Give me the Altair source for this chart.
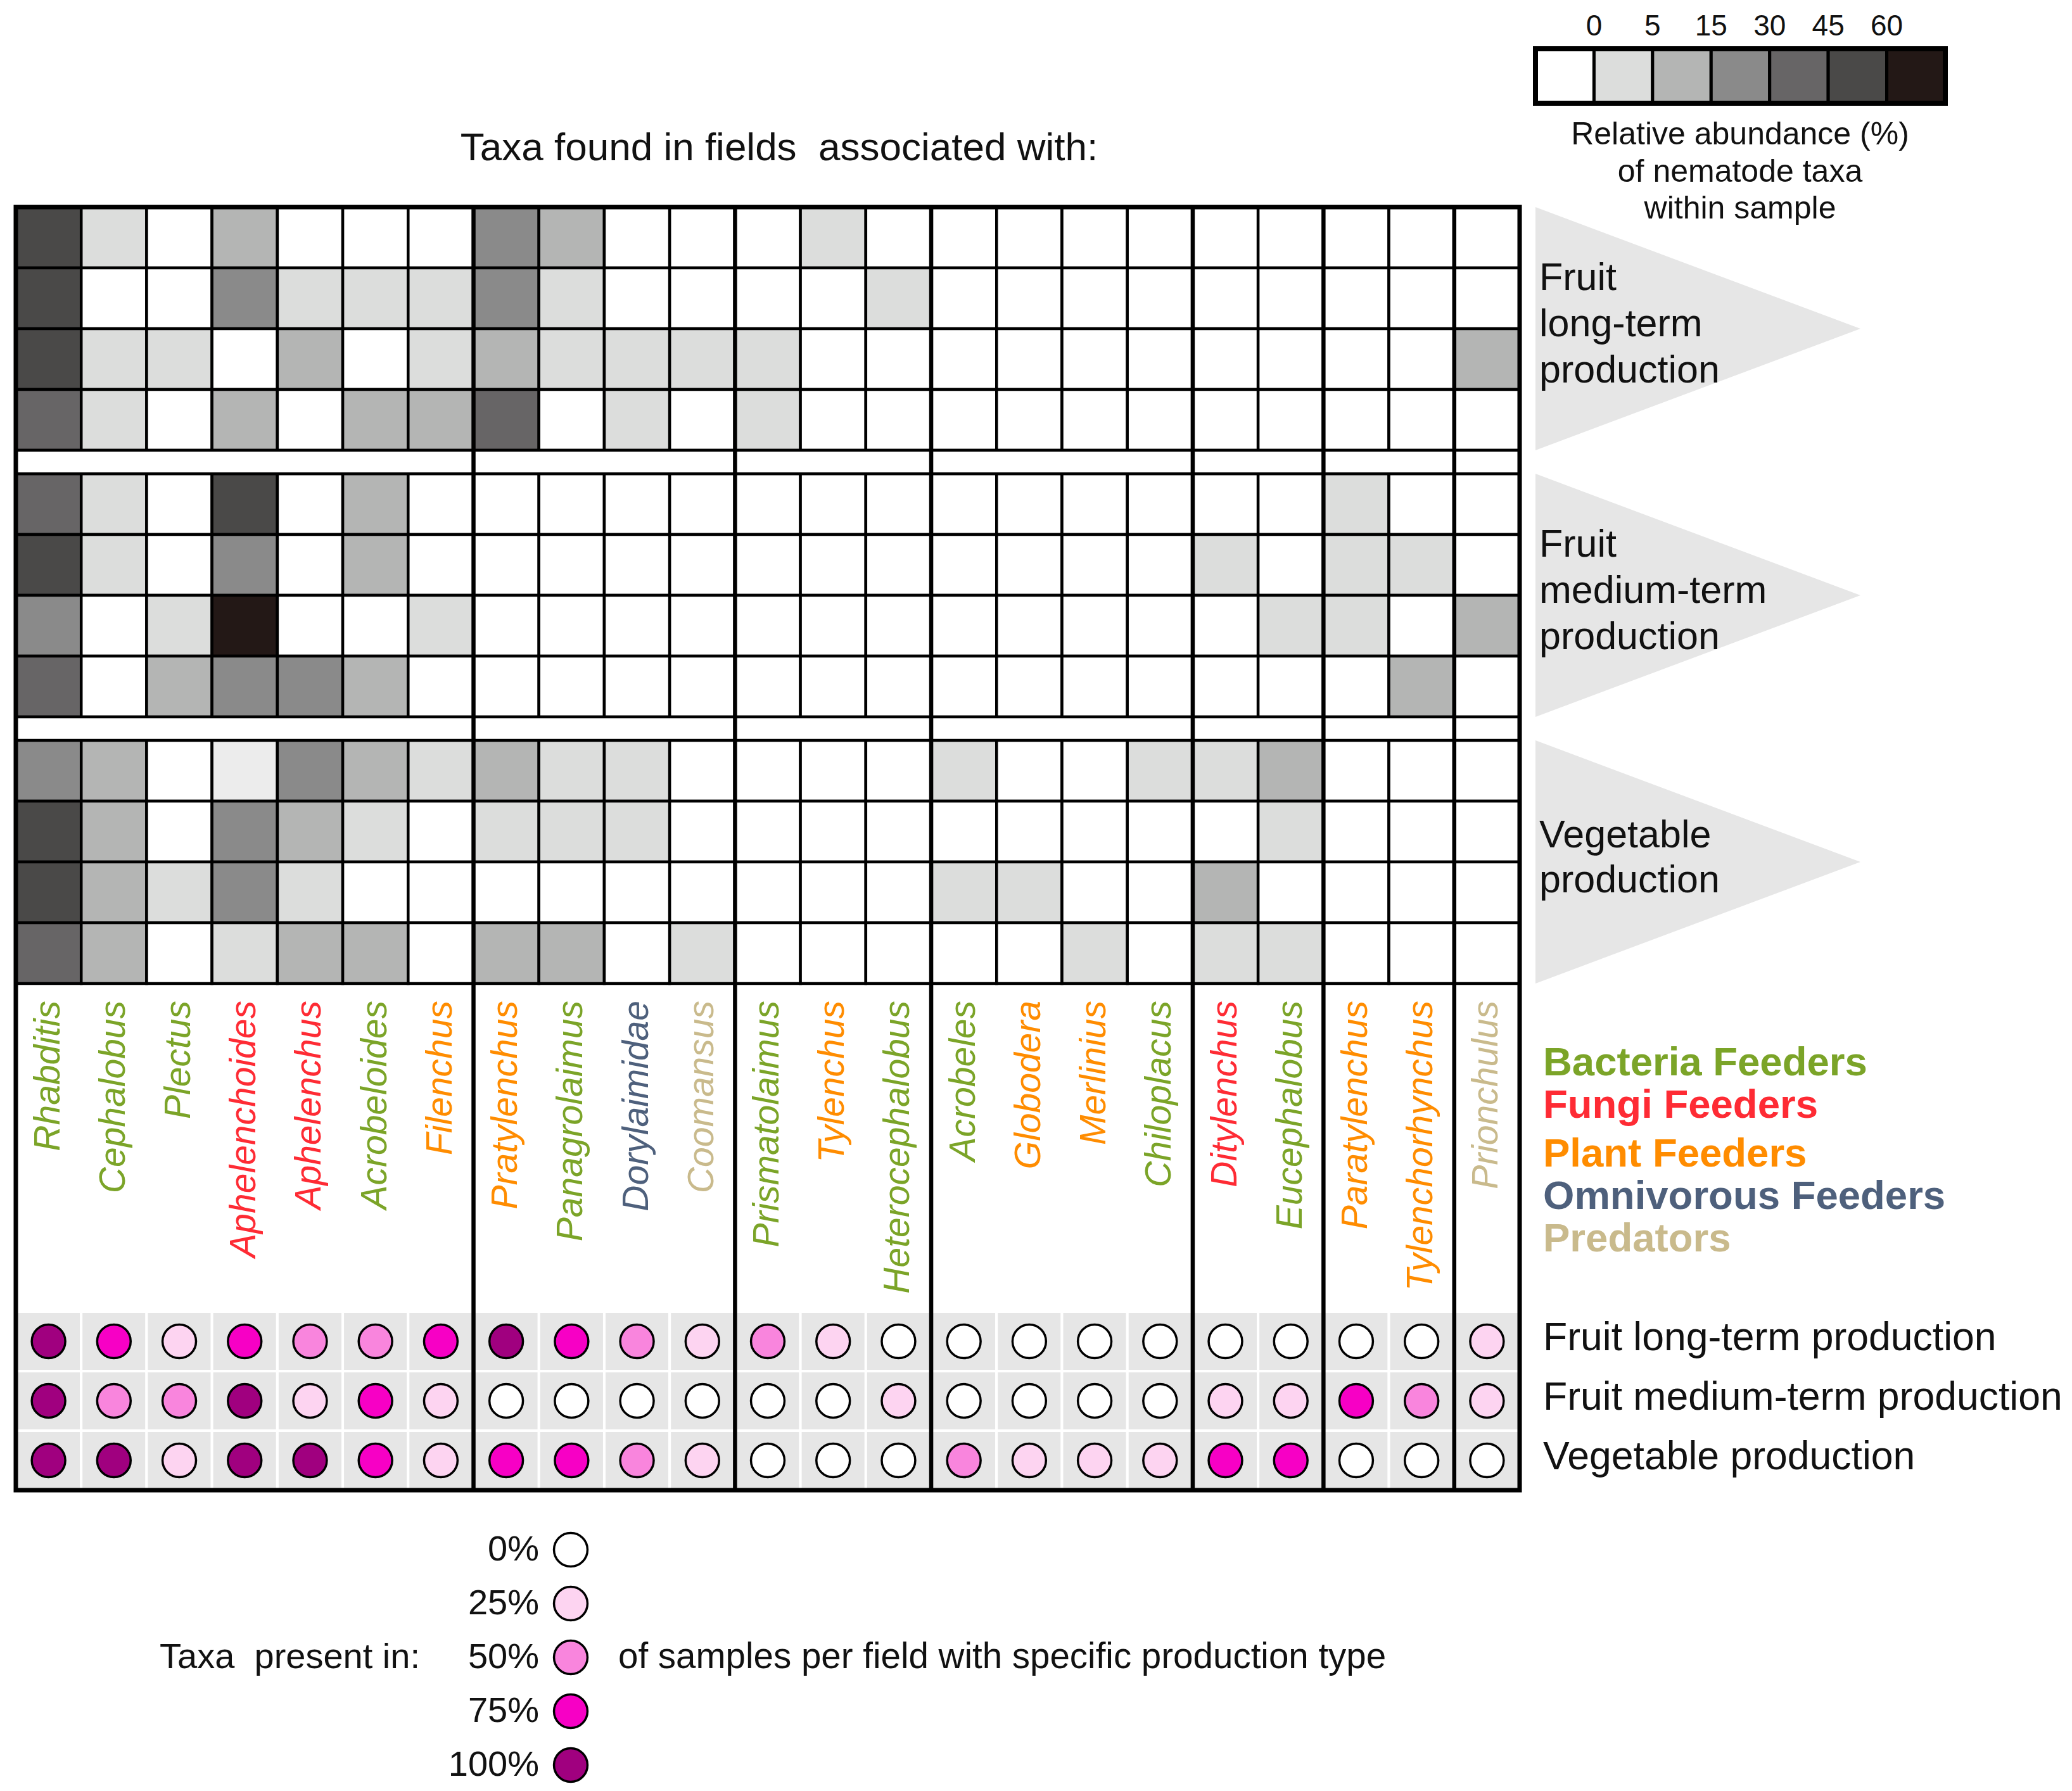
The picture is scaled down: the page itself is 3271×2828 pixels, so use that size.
import altair as alt
import pandas as pd

# ---------------- data ----------------
taxa = ["Rhabditis", "Cephalobus", "Plectus", "Aphelenchoides", "Aphelenchus", "Acrobeloides", "Filenchus",
        "Pratylenchus", "Panagrolaimus", "Dorylaimidae", "Coomansus",
        "Prismatolaimus", "Tylenchus", "Heterocephalobus",
        "Acrobeles", "Globodera", "Merlinius", "Chiloplacus",
        "Ditylenchus", "Eucephalobus",
        "Paratylenchus", "Tylenchorhynchus",
        "Prionchulus"]
taxa_group_sizes = [7, 4, 3, 4, 2, 2, 1]
taxon_feeding = ["Bacteria Feeders", "Bacteria Feeders", "Bacteria Feeders", "Fungi Feeders", "Fungi Feeders",
                 "Bacteria Feeders", "Plant Feeders",
                 "Plant Feeders", "Bacteria Feeders", "Omnivorous Feeders", "Predators",
                 "Bacteria Feeders", "Plant Feeders", "Bacteria Feeders",
                 "Bacteria Feeders", "Plant Feeders", "Plant Feeders", "Bacteria Feeders",
                 "Fungi Feeders", "Bacteria Feeders",
                 "Plant Feeders", "Plant Feeders",
                 "Predators"]
feeding_types = ["Bacteria Feeders", "Fungi Feeders", "Plant Feeders", "Omnivorous Feeders", "Predators"]
feeding_colors = ["#7ba428", "#fe2b34", "#ff8c00", "#4e607c", "#c9ba8c"]

productions = ["Fruit long-term production", "Fruit medium-term production", "Vegetable production"]
production_lines = [["Fruit", "long-term", "production"],
                    ["Fruit", "medium-term", "production"],
                    ["Vegetable", "production"]]

# relative abundance class per sample (rows) and taxon (columns)
abund_fruit_long = [
    [5, 1, 0, 2, 0, 0, 0, 3, 2, 0, 0, 0, 1, 0, 0, 0, 0, 0, 0, 0, 0, 0, 0],
    [5, 0, 0, 3, 1, 1, 1, 3, 1, 0, 0, 0, 0, 1, 0, 0, 0, 0, 0, 0, 0, 0, 0],
    [5, 1, 1, 0, 2, 0, 1, 2, 1, 1, 1, 1, 0, 0, 0, 0, 0, 0, 0, 0, 0, 0, 2],
    [4, 1, 0, 2, 0, 2, 2, 4, 0, 1, 0, 1, 0, 0, 0, 0, 0, 0, 0, 0, 0, 0, 0],
]
abund_fruit_medium = [
    [4, 1, 0, 5, 0, 2, 0, 0, 0, 0, 0, 0, 0, 0, 0, 0, 0, 0, 0, 0, 1, 0, 0],
    [5, 1, 0, 3, 0, 2, 0, 0, 0, 0, 0, 0, 0, 0, 0, 0, 0, 0, 1, 0, 1, 1, 0],
    [3, 0, 1, 6, 0, 0, 1, 0, 0, 0, 0, 0, 0, 0, 0, 0, 0, 0, 0, 1, 1, 0, 2],
    [4, 0, 2, 3, 3, 2, 0, 0, 0, 0, 0, 0, 0, 0, 0, 0, 0, 0, 0, 0, 0, 2, 0],
]
abund_vegetable = [
    [3, 2, 0, 0.5, 3, 2, 1, 2, 1, 1, 0, 0, 0, 0, 1, 0, 0, 1, 1, 2, 0, 0, 0],
    [5, 2, 0, 3, 2, 1, 0, 1, 1, 1, 0, 0, 0, 0, 0, 0, 0, 0, 0, 1, 0, 0, 0],
    [5, 2, 1, 3, 1, 0, 0, 0, 0, 0, 0, 0, 0, 0, 1, 1, 0, 0, 2, 0, 0, 0, 0],
    [4, 2, 0, 1, 2, 2, 0, 2, 2, 0, 1, 0, 0, 0, 0, 0, 1, 0, 1, 1, 0, 0, 0],
]
abund_classes = [0, 0.5, 1, 2, 3, 4, 5, 6]
abund_colors = ["#ffffff", "#ececec", "#dcdddc", "#b4b5b4", "#8a8a8a", "#676566", "#4a4948", "#231816"]
abund_legend_classes = [0, 1, 2, 3, 4, 5, 6]
abund_legend_ticks = ["0", "5", "15", "30", "45", "60"]
abund_caption = ["Relative abundance (%)", "of nematode taxa", "within sample"]

# share of samples per field in which the taxon is present (0..4 -> 0%..100%)
presence_fruit_long = [4, 3, 1, 3, 2, 2, 3, 4, 3, 2, 1, 2, 1, 0, 0, 0, 0, 0, 0, 0, 0, 0, 1]
presence_fruit_medium = [4, 2, 2, 4, 1, 3, 1, 0, 0, 0, 0, 0, 0, 1, 0, 0, 0, 0, 1, 1, 3, 2, 1]
presence_vegetable = [4, 4, 1, 4, 4, 3, 1, 3, 3, 2, 1, 0, 0, 0, 2, 1, 1, 1, 3, 3, 0, 0, 0]
presence_classes = [0, 1, 2, 3, 4]
presence_labels = ["0%", "25%", "50%", "75%", "100%"]
presence_colors = ["#ffffff", "#fdd4f1", "#f985dd", "#f700c5", "#a0007f"]

title_text = "Taxa found in fields\u00a0 associated with:"
presence_caption_left = "Taxa\u00a0 present in:"
presence_caption_right = "of samples per field with specific production type"

# ---------------- layout ----------------
FONT = "Liberation Sans"
W, H = 3255, 2812
X0, X1 = 25, 2399
NT = len(taxa)
CW = (X1 - X0) / NT
GT = [327, 748, 1169]
RH = 96
GRID_BOT = GT[2] + 4 * RH
DOT_T = 2071
DH = 94
BOT = DOT_T + 3 * DH
TRI_L, TRI_TIP = 2424, 2937
RIGHT_TXT = 2436

xs = alt.Scale(domain=[8, 8 + W], nice=False, zero=False)
ys = alt.Scale(domain=[8, 8 + H], nice=False, zero=False, reverse=True)


def X(f="x"):
    return alt.X(f + ":Q", scale=xs, axis=None)


def Y(f="y"):
    return alt.Y(f + ":Q", scale=ys, axis=None)


abund_all = [abund_fruit_long, abund_fruit_medium, abund_vegetable]
pres_all = [presence_fruit_long, presence_fruit_medium, presence_vegetable]

cells = []
for p, mat in enumerate(abund_all):
    for s, row in enumerate(mat):
        for i, v in enumerate(row):
            cells.append(dict(x=X0 + i * CW, x2=X0 + (i + 1) * CW,
                              y=GT[p] + s * RH, y2=GT[p] + (s + 1) * RH,
                              cls=v, taxon=taxa[i], prod=productions[p]))
cells = pd.DataFrame(cells)

# group boundaries
bounds = [0]
for g in taxa_group_sizes:
    bounds.append(bounds[-1] + g)

spacers = []
for k in range(2):
    for a, b in zip(bounds[:-1], bounds[1:]):
        spacers.append(dict(x=X0 + a * CW, x2=X0 + b * CW, y=GT[k] + 4 * RH, y2=GT[k + 1]))
spacers = pd.DataFrame(spacers)

dotbg = []
dots = []
for p, row in enumerate(pres_all):
    for i, v in enumerate(row):
        dotbg.append(dict(x=X0 + i * CW, x2=X0 + (i + 1) * CW, y=DOT_T + p * DH, y2=DOT_T + (p + 1) * DH))
        dots.append(dict(x=X0 + (i + 0.5) * CW, y=DOT_T + (p + 0.5) * DH, pres=v,
                         taxon=taxa[i], prod=productions[p]))
dotbg = pd.DataFrame(dotbg)
dots = pd.DataFrame(dots)

rules = pd.DataFrame([dict(x=X0 + b * CW, y=GT[0], y2=BOT) for b in bounds[1:-1]])
border = pd.DataFrame([dict(x=X0, x2=X1, y=GT[0], y2=BOT)])

tri = []
for p in range(3):
    top, bot = GT[p], GT[p] + 4 * RH
    mid = (top + bot) / 2
    tri.append(dict(x=TRI_L, y=top, y2=bot, g=p))
    tri.append(dict(x=TRI_TIP, y=mid, y2=mid, g=p))
tri = pd.DataFrame(tri)

tri_txt = []
for p, lines in enumerate(production_lines):
    mid = GT[p] + 2 * RH - 6
    n = len(lines)
    step = 73 if n == 3 else 71
    for j, t in enumerate(lines):
        tri_txt.append(dict(x=2430, y=mid + (j - (n - 1) / 2) * step, text=t))
tri_txt = pd.DataFrame(tri_txt)

taxa_lbl = pd.DataFrame([dict(x=X0 + (i + 0.5) * CW, y=GRID_BOT + 27, text=t, feed=f)
                         for i, (t, f) in enumerate(zip(taxa, taxon_feeding))])

feed_y = [1679, 1746, 1823, 1890, 1957]
feed_lbl = pd.DataFrame([dict(x=RIGHT_TXT, y=yy, text=t, feed=t) for t, yy in zip(feeding_types, feed_y)])

prod_lbl = pd.DataFrame([dict(x=RIGHT_TXT, y=DOT_T + (p + 0.5) * DH - 5, text=t)
                         for p, t in enumerate(productions)])

title_df = pd.DataFrame([dict(x=1230, y=234, text=title_text)])

# abundance legend
LG_L, LG_R, LG_T, LG_B = 2424, 3071, 77, 163
LBW = (LG_R - LG_L) / len(abund_legend_classes)
leg_boxes = pd.DataFrame([dict(x=LG_L + k * LBW, x2=LG_L + (k + 1) * LBW, y=LG_T, y2=LG_B, cls=c)
                          for k, c in enumerate(abund_legend_classes)])
leg_border = pd.DataFrame([dict(x=LG_L, x2=LG_R, y=LG_T, y2=LG_B)])
leg_ticks = pd.DataFrame([dict(x=LG_L + (k + 1) * LBW, y=42, text=t) for k, t in enumerate(abund_legend_ticks)])
leg_cap = pd.DataFrame([dict(x=2747, y=213 + j * 58.5, text=t) for j, t in enumerate(abund_caption)])

# presence legend
PL_X = 901
pres_leg = pd.DataFrame([dict(x=PL_X, y=2447 + k * 85, pres=c, text=l)
                         for k, (c, l) in enumerate(zip(presence_classes, presence_labels))])
pres_cap = pd.DataFrame([dict(x=663, y=2617, text=presence_caption_left)])
pres_cap2 = pd.DataFrame([dict(x=976, y=2617, text=presence_caption_right)])

# ---------------- layers ----------------
abund_fill = alt.Fill("cls:O", scale=alt.Scale(domain=abund_classes, range=abund_colors), legend=None)
pres_fill = alt.Fill("pres:O", scale=alt.Scale(domain=presence_classes, range=presence_colors), legend=None)
feed_color = alt.Color("feed:N", scale=alt.Scale(domain=feeding_types, range=feeding_colors), legend=None)

heat = alt.Chart(cells).mark_rect(stroke="black", strokeWidth=4.5).encode(
    x=X(), x2="x2", y=Y(), y2="y2", fill=abund_fill)
spacer = alt.Chart(spacers).mark_rect(fill="white", stroke="black", strokeWidth=4.5).encode(
    x=X(), x2="x2", y=Y(), y2="y2")
dotbg_l = alt.Chart(dotbg).mark_rect(fill="#e6e6e6", stroke="white", strokeWidth=4).encode(
    x=X(), x2="x2", y=Y(), y2="y2")
rule_l = alt.Chart(rules).mark_rule(color="black", strokeWidth=6.5).encode(x=X(), y=Y(), y2="y2")
border_l = alt.Chart(border).mark_rect(fillOpacity=0, stroke="black", strokeWidth=7).encode(
    x=X(), x2="x2", y=Y(), y2="y2")
dots_l = alt.Chart(dots).mark_point(shape="circle", filled=True, size=2800, stroke="black",
                                   strokeWidth=3.5, opacity=1).encode(x=X(), y=Y(), fill=pres_fill)
tri_l = alt.Chart(tri).mark_area(color="#e6e6e6", orient="vertical").encode(
    x=X(), y=Y(), y2="y2", detail="g:N")

tri_txt_l = alt.Chart(tri_txt).mark_text(font=FONT, fontSize=61, align="left", baseline="middle",
                                         color="#111111").encode(x=X(), y=Y(), text="text:N")
taxa_l = alt.Chart(taxa_lbl).mark_text(font=FONT, fontSize=57, fontStyle="italic", angle=270,
                                       align="right", baseline="middle").encode(
    x=X(), y=Y(), text="text:N", color=feed_color)
feed_l = alt.Chart(feed_lbl).mark_text(font=FONT, fontSize=63.5, fontWeight="bold", align="left",
                                       baseline="middle").encode(x=X(), y=Y(), text="text:N", color=feed_color)
prod_l = alt.Chart(prod_lbl).mark_text(font=FONT, fontSize=62.5, align="left", baseline="middle",
                                       color="#111111").encode(x=X(), y=Y(), text="text:N")
title_l = alt.Chart(title_df).mark_text(font=FONT, fontSize=62, align="center", baseline="middle",
                                        color="#111111").encode(x=X(), y=Y(), text="text:N")

leg_box_l = alt.Chart(leg_boxes).mark_rect(stroke="black", strokeWidth=5).encode(
    x=X(), x2="x2", y=Y(), y2="y2", fill=abund_fill)
leg_border_l = alt.Chart(leg_border).mark_rect(fillOpacity=0, stroke="black", strokeWidth=8).encode(
    x=X(), x2="x2", y=Y(), y2="y2")
leg_tick_l = alt.Chart(leg_ticks).mark_text(font=FONT, fontSize=46, align="center", baseline="middle",
                                            color="#111111").encode(x=X(), y=Y(), text="text:N")
leg_cap_l = alt.Chart(leg_cap).mark_text(font=FONT, fontSize=50, align="center", baseline="middle",
                                         color="#111111").encode(x=X(), y=Y(), text="text:N")

pres_leg_pts = alt.Chart(pres_leg).mark_point(shape="circle", filled=True, size=2800, stroke="black",
                                              strokeWidth=3.5, opacity=1).encode(x=X(), y=Y(), fill=pres_fill)
pres_leg_txt = alt.Chart(pres_leg).mark_text(font=FONT, fontSize=56, align="right", baseline="middle",
                                             dx=-50, color="#111111").encode(x=X(), y=Y(), text="text:N")
pres_cap_l = alt.Chart(pres_cap).mark_text(font=FONT, fontSize=56, align="right", baseline="middle",
                                           color="#111111").encode(x=X(), y=Y(), text="text:N")
pres_cap2_l = alt.Chart(pres_cap2).mark_text(font=FONT, fontSize=56.5, align="left", baseline="middle",
                                             color="#111111").encode(x=X(), y=Y(), text="text:N")

chart = alt.layer(
    heat, spacer, dotbg_l, rule_l, border_l, dots_l, tri_l,
    tri_txt_l, taxa_l, feed_l, prod_l, title_l,
    leg_box_l, leg_border_l, leg_tick_l, leg_cap_l,
    pres_leg_pts, pres_leg_txt, pres_cap_l, pres_cap2_l
).resolve_scale(fill="independent", color="independent").properties(
    width=W, height=H, padding=0, autosize=alt.AutoSizeParams(type="none"), background="white"
).configure_view(stroke=None)

chart.save("out.html", embed_options={"renderer": "svg", "actions": False})
